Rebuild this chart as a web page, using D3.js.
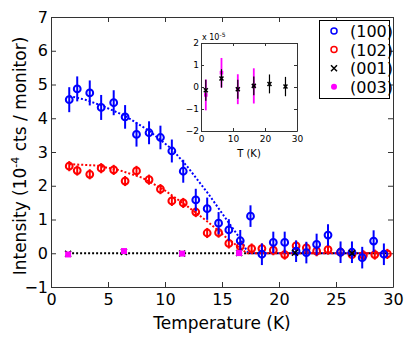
<!DOCTYPE html>
<html>
<head>
<meta charset="utf-8">
<script src="https://cdn.jsdelivr.net/npm/d3@7"></script>
<style>
  body { margin: 0; background: #fff; }
  svg { font-family: "DejaVu Sans", sans-serif; }
</style>
</head>
<body>
<div id="chart"></div>
<script>
const width = 415;
const height = 337;

// (100) peak, blue
const t100 = [1.6, 2.3, 3.4, 4.4, 5.5, 6.5, 7.5, 8.6, 9.6, 10.6, 11.6, 12.7, 13.7, 14.7, 15.6, 16.6, 17.5, 18.5, 19.5, 20.5, 21.5, 22.4, 23.3, 24.3, 25.4, 26.4, 27.3, 28.3, 29.2];
const i100 = [4.55, 4.87, 4.75, 4.32, 4.46, 4.04, 3.52, 3.57, 3.43, 3.03, 2.43, 1.58, 1.32, 0.89, 0.69, 0.37, 1.10, -0.03, 0.32, 0.32, 0.06, 0.02, 0.26, 0.54, 0.03, 0.03, -0.13, 0.36, -0.03];
const e100 = [0.37, 0.37, 0.37, 0.37, 0.37, 0.35, 0.36, 0.34, 0.35, 0.34, 0.34, 0.33, 0.33, 0.33, 0.32, 0.32, 0.32, 0.32, 0.32, 0.32, 0.32, 0.32, 0.32, 0.32, 0.32, 0.32, 0.32, 0.32, 0.32];

// (102) peak, red
const t102 = [1.6, 2.3, 3.4, 4.4, 5.5, 6.5, 7.5, 8.6, 9.6, 10.6, 11.6, 12.7, 13.7, 14.7, 15.6, 16.6, 17.6, 18.5, 19.5, 20.5, 21.5, 22.4, 23.3, 24.3, 25.4, 26.4, 27.4, 28.4, 29.5];
const i102 = [2.58, 2.45, 2.34, 2.52, 2.47, 2.14, 2.44, 2.18, 1.90, 1.55, 1.49, 1.22, 0.60, 0.61, 0.29, 0.20, 0.14, 0.14, 0.09, -0.04, 0.22, 0.16, 0.06, 0.11, 0.03, -0.04, -0.06, -0.04, -0.02];
const e102 = 0.15;

// fits
const fit100T = [1.6, 3, 4.5, 6.5, 8.6, 10.6, 12, 13.8, 15.5, 16.6, 17.3, 20, 25, 29.5];
const fit100I = [4.66, 4.55, 4.37, 4.07, 3.63, 3.09, 2.55, 1.76, 0.95, 0.43, 0.0, 0.0, 0.0, 0.0];
const fit102T = [1.6, 4, 6, 8, 10, 12, 13.8, 15.5, 17.2, 20, 25, 29.5];
const fit102I = [2.64, 2.6, 2.46, 2.24, 1.86, 1.38, 0.92, 0.43, 0.0, 0.0, 0.0, 0.0];

// (001) and (003), in units of 1e-5 (inset scale)
const t001 = [1.5, 6.4, 11.5, 16.5, 21.4, 26.4];
const i001 = [-0.15, 0.39, -0.1, 0.05, 0.14, 0.02];
const e001 = [0.48, 0.42, 0.43, 0.43, 0.43, 0.44];
const t003 = [1.5, 6.4, 11.5, 16.5];
const i003 = [-0.36, 0.65, -0.1, 0.05];
const e003 = [0.7, 0.67, 0.68, 0.8];

const xTicks = [0, 5, 10, 15, 20, 25, 30];
const yTicks = [-1, 0, 1, 2, 3, 4, 5, 6, 7];
const insetXTicks = [0, 10, 20, 30];
const insetYTicks = [-2, -1, 0, 1, 2];

const legendItems = [
    { label: "(100)", color: "#0000ff", kind: "open" },
    { label: "(102)", color: "#ff0000", kind: "open" },
    { label: "(001)", color: "#000000", kind: "x" },
    { label: "(003)", color: "#ff00ff", kind: "dot" }
];

const svg = d3.select("#chart")
    .append("svg")
    .attr("width", width)
    .attr("height", height);

const m = { left: 51, right: 393, top: 17, bottom: 287 };

const x = d3.scaleLinear().domain([0, 30]).range([m.left, m.right]);
const y = d3.scaleLinear().domain([-1, 7]).range([m.bottom, m.top]);

const spine = "#333";

// ticks, inward on all four sides
const axB = svg.append("g").attr("transform", `translate(0,${m.bottom})`)
    .call(d3.axisBottom(x).tickValues(xTicks).tickSizeInner(-5).tickSizeOuter(0).tickPadding(9));
const axT = svg.append("g").attr("transform", `translate(0,${m.top})`)
    .call(d3.axisTop(x).tickValues(xTicks).tickSizeInner(-5).tickSizeOuter(0).tickFormat(""));
const axL = svg.append("g").attr("transform", `translate(${m.left},0)`)
    .call(d3.axisLeft(y).tickValues(yTicks).tickSizeInner(-5).tickSizeOuter(0).tickPadding(8));
const axR = svg.append("g").attr("transform", `translate(${m.right},0)`)
    .call(d3.axisRight(y).tickValues(yTicks).tickSizeInner(-5).tickSizeOuter(0).tickFormat(""));

[axB, axT, axL, axR].forEach(a => {
    a.select(".domain").attr("stroke", spine);
    a.selectAll(".tick line").attr("stroke", spine);
    a.selectAll("text").attr("font-size", 16).attr("fill", "#000").attr("font-family", "DejaVu Sans");
});
axB.selectAll("text").attr("dy", "0.71em").attr("y", 7);
axL.selectAll("text").attr("x", -3);
axL.selectAll("text").text(d => d < 0 ? "\u2212" + Math.abs(d) : d);

// axis labels
svg.append("text")
    .attr("x", (m.left + m.right) / 2)
    .attr("y", 329)
    .attr("text-anchor", "middle")
    .attr("font-size", 17)
    .text("Temperature (K)");

const yl = svg.append("text")
    .attr("transform", `translate(26,${(m.top + m.bottom) / 2 + 4}) rotate(-90)`)
    .attr("text-anchor", "middle")
    .attr("font-size", 17);
yl.append("tspan").text("Intensity (10");
yl.append("tspan").attr("font-size", 11).attr("dy", -7).text("-4");
yl.append("tspan").attr("dy", 7).text(" cts / monitor)");

const plot = svg.append("g");

const line = d3.line().x(d => x(d[0])).y(d => y(d[1]));

// zero line (001)/(003)
plot.append("path")
    .attr("d", line([[1.5, 0], [29.5, 0]]))
    .attr("fill", "none").attr("stroke", "#000").attr("stroke-width", 2)
    .attr("stroke-dasharray", "2,2");

plot.append("path")
    .attr("d", line(d3.zip(fit100T, fit100I)))
    .attr("fill", "none").attr("stroke", "#0000ff").attr("stroke-width", 2)
    .attr("stroke-dasharray", "2,2");
plot.append("path")
    .attr("d", line(d3.zip(fit102T, fit102I)))
    .attr("fill", "none").attr("stroke", "#ff0000").attr("stroke-width", 2)
    .attr("stroke-dasharray", "2,2");

function drawSeries(g, xs, ys, T, I, E, color, opts) {
    const data = T.map((t, k) => ({ t: t, v: I[k], e: Array.isArray(E) ? E[k] : E }));
    g.selectAll(null).data(data).enter().append("line")
        .attr("x1", d => xs(d.t)).attr("x2", d => xs(d.t))
        .attr("y1", d => ys(d.v - d.e)).attr("y2", d => ys(d.v + d.e))
        .attr("stroke", opts.barColor || color).attr("stroke-width", opts.barWidth || 2);
    if (opts.kind === "open") {
        g.selectAll(null).data(data).enter().append("circle")
            .attr("cx", d => xs(d.t)).attr("cy", d => ys(d.v))
            .attr("r", opts.r || 3.4).attr("fill", "none")
            .attr("stroke", color).attr("stroke-width", 2);
    } else if (opts.kind === "dot") {
        g.selectAll(null).data(data).enter().append("rect")
            .attr("x", d => xs(d.t) - opts.r).attr("y", d => ys(d.v) - opts.r)
            .attr("width", opts.r * 2).attr("height", opts.r * 2)
            .attr("fill", color);
    } else {
        const s = opts.r;
        g.selectAll(null).data(data).enter().append("path")
            .attr("d", d => `M${xs(d.t) - s},${ys(d.v) - s}L${xs(d.t) + s},${ys(d.v) + s}M${xs(d.t) - s},${ys(d.v) + s}L${xs(d.t) + s},${ys(d.v) - s}`)
            .attr("stroke", color).attr("stroke-width", 1.5);
    }
}

drawSeries(plot, x, y, t102, i102, e102, "#ff0000", { kind: "open" });
drawSeries(plot, x, y, t100, i100, e100, "#0000ff", { kind: "open" });
drawSeries(plot, x, y, t001, i001.map(v => v / 10), e001.map(v => v / 10), "#000000", { kind: "x", r: 3, barWidth: 1.5 });
drawSeries(plot, x, y, t003, i003.map(v => v / 10), e003.map(v => v / 10), "#ff00ff", { kind: "dot", r: 3, barWidth: 2 });

// legend
const lg = svg.append("g");
lg.append("rect")
    .attr("x", 319.5).attr("y", 20.5).attr("width", 70).attr("height", 78)
    .attr("fill", "#fff").attr("stroke", "#000").attr("stroke-width", 1);
legendItems.forEach((it, k) => {
    const cy = 31 + k * 18.6;
    if (it.kind === "open") {
        lg.append("circle").attr("cx", 334).attr("cy", cy).attr("r", 3)
            .attr("fill", "none").attr("stroke", it.color).attr("stroke-width", 1.5);
    } else if (it.kind === "dot") {
        lg.append("circle").attr("cx", 334).attr("cy", cy).attr("r", 3).attr("fill", it.color);
    } else {
        lg.append("path").attr("d", `M331,${cy - 3}L337,${cy + 3}M331,${cy + 3}L337,${cy - 3}`)
            .attr("stroke", it.color).attr("stroke-width", 1.5);
    }
    lg.append("text").attr("x", 350).attr("y", cy + 6)
        .attr("font-size", 16).text(it.label);
});

// inset
const im = { left: 201, right: 297, top: 43, bottom: 131 };
const ix = d3.scaleLinear().domain([0, 30]).range([im.left, im.right]);
const iy = d3.scaleLinear().domain([-2, 2]).range([im.bottom, im.top]);
const inset = svg.append("g");
inset.append("rect")
    .attr("x", im.left).attr("y", im.top)
    .attr("width", im.right - im.left).attr("height", im.bottom - im.top)
    .attr("fill", "#fff");

const iB = inset.append("g").attr("transform", `translate(0,${im.bottom})`)
    .call(d3.axisBottom(ix).tickValues(insetXTicks).tickSizeInner(-3).tickSizeOuter(0).tickPadding(5));
const iT = inset.append("g").attr("transform", `translate(0,${im.top})`)
    .call(d3.axisTop(ix).tickValues(insetXTicks).tickSizeInner(-3).tickSizeOuter(0).tickFormat(""));
const iL = inset.append("g").attr("transform", `translate(${im.left},0)`)
    .call(d3.axisLeft(iy).tickValues(insetYTicks).tickSizeInner(-3).tickSizeOuter(0).tickPadding(4));
const iR = inset.append("g").attr("transform", `translate(${im.right},0)`)
    .call(d3.axisRight(iy).tickValues(insetYTicks).tickSizeInner(-3).tickSizeOuter(0).tickFormat(""));
[iB, iT, iL, iR].forEach(a => {
    a.select(".domain").attr("stroke", spine);
    a.selectAll(".tick line").attr("stroke", spine);
    a.selectAll("text").attr("font-size", 9).attr("fill", "#000").attr("font-family", "DejaVu Sans");
});
iL.selectAll("text").attr("x", -2).text(d => d < 0 ? "\u2212" + Math.abs(d) : d);

const ex = inset.append("text").attr("x", 202).attr("y", 40).attr("font-size", 8);
ex.append("tspan").text("x 10");
ex.append("tspan").attr("font-size", 6).attr("dy", -3).text("-5");

inset.append("text")
    .attr("x", (im.left + im.right) / 2).attr("y", 157)
    .attr("text-anchor", "middle").attr("font-size", 10)
    .text("T (K)");

drawSeries(inset, ix, iy, t003, i003, e003, "#ff00ff", { kind: "dot", r: 1.8, barWidth: 1.8 });
drawSeries(inset, ix, iy, t001, i001, e001, "#000000", { kind: "x", r: 2, barWidth: 1.2 });
</script>
</body>
</html>
